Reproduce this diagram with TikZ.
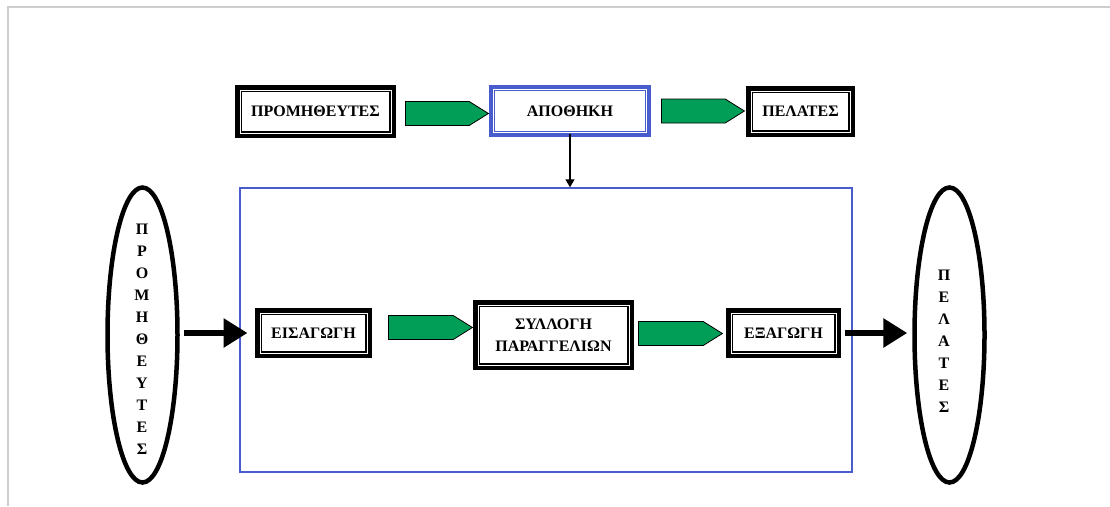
\documentclass[tikz,border=0pt]{standalone}
\usepackage{fontspec}
\setmainfont{Liberation Serif}
\usetikzlibrary{shapes.geometric,shapes.arrows,arrows.meta,calc}
\definecolor{flowgreen}{RGB}{0,158,86}
\definecolor{zoneblue}{RGB}{72,92,205}
\definecolor{edgegray}{RGB}{205,205,205}
\begin{document}
\begin{tikzpicture}[x=1pt,y=-1pt,
  lbl/.style={font=\fontsize{16}{22}\selectfont\bfseries, align=center},
  blackframe/.style={lbl, draw=black, line width=7pt, outer sep=0pt, inner sep=0pt},
  blueframe/.style={lbl, draw=zoneblue, line width=6pt, outer sep=0pt, inner sep=0pt},
  innerline/.style={draw=white, line width=1pt},
  flow/.style={single arrow, single arrow head extend=0pt, single arrow tip angle=64,
    draw=black, line width=0.8pt, fill=flowgreen, inner sep=0pt, anchor=tail,
    minimum width=24pt, minimum height=83pt},
  party/.style={ellipse, draw=black, line width=4.5pt, inner sep=0pt,
    minimum width=70pt, minimum height=295pt},
  vtext/.style={font=\fontsize{16}{22}\selectfont\bfseries, align=center, inner sep=0pt},
  bigarrow/.style={line width=6.5pt, -{Triangle[length=24pt,width=28pt]}},
]
\useasboundingbox (0,0) rectangle (1110,506);
\fill[white] (0,0) rectangle (1110,506);
% page edge
\draw[edgegray, line width=1.5pt] (8,506) -- (8,7) -- (1110,7);

% top row
\node[blackframe, minimum width=154pt, minimum height=46pt] (sup) at (315.5,111.5) {ΠΡΟΜΗΘΕΥΤΕΣ};
\node[blueframe, minimum width=156pt, minimum height=46pt] (store) at (570,111) {ΑΠΟΘΗΚΗ};
\node[blackframe, minimum width=102pt, minimum height=44pt] (cli) at (800.5,111.5) {ΠΕΛΑΤΕΣ};
\node[flow] (g1) at (405,113.5) {};
\node[flow] (g2) at (661,111) {};

% process zone
\node[draw=zoneblue, line width=1.5pt, minimum width=612pt, minimum height=284pt, inner sep=0pt] (zone) at (546,330) {};
\draw[line width=1.2pt, -{Triangle[length=8pt,width=9pt]}] (store.south) -- (store.south |- zone.north);

\node[blackframe, minimum width=110pt, minimum height=43pt] (inp) at (313.5,333) {ΕΙΣΑΓΩΓΗ};
\node[blackframe, minimum width=154pt, minimum height=63pt] (ord) at (553.5,335) {ΣΥΛΛΟΓΗ\\ΠΑΡΑΓΓΕΛΙΩΝ};
\node[blackframe, minimum width=108pt, minimum height=43pt] (outp) at (783.5,333) {ΕΞΑΓΩΓΗ};
\node[flow, minimum height=84pt] (g3) at (388,327.5) {};
\node[flow, minimum height=84pt] (g4) at (638,333.5) {};

% thin white line inside each framed box
\foreach \n in {sup,store,cli,inp,ord,outp}
  \draw[innerline] ($(\n.south west)+(1.5,-1.5)$) rectangle ($(\n.north east)+(-1.5,1.5)$);

% suppliers and customers
\node[party] (left) at (142.5,335) {};
\node[vtext] (lefttext) at (142,339) {Π\\Ρ\\Ο\\Μ\\Η\\Θ\\Ε\\Υ\\Τ\\Ε\\Σ};
\node[party] (right) at (949.5,335) {};
\node[vtext] (righttext) at (944,341) {Π\\Ε\\Λ\\Α\\Τ\\Ε\\Σ};

\draw[bigarrow, shorten <=4pt, shorten >=11pt] (left.east |- inp.west) -- (inp.west);
\draw[bigarrow, shorten <=7pt, shorten >=5pt] (outp.east) -- (outp.east -| right.west);
\end{tikzpicture}
\end{document}
